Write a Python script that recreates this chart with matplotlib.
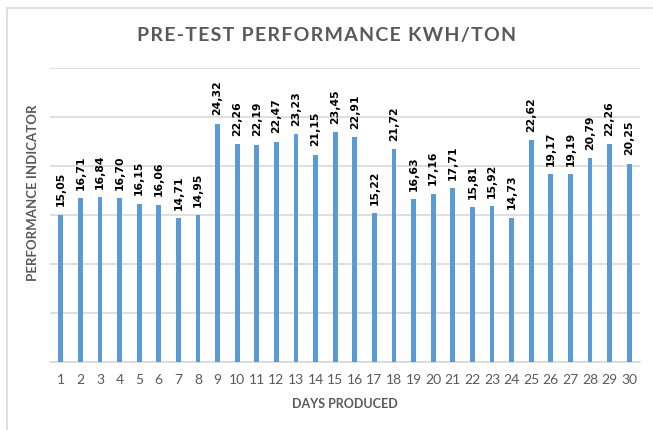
import matplotlib
matplotlib.use('Agg')
import matplotlib.pyplot as plt
from matplotlib.lines import Line2D
from matplotlib.transforms import offset_copy

days = list(range(1, 31))
values = [15.05, 16.71, 16.84, 16.70, 16.15, 16.06, 14.71, 14.95, 24.32, 22.26,
          22.19, 22.47, 23.23, 21.15, 23.45, 22.91, 15.22, 21.72, 16.63, 17.16,
          17.71, 15.81, 15.92, 14.73, 22.62, 19.17, 19.19, 20.79, 22.26, 20.25]
labels = [('%.2f' % v).replace('.', ',') for v in values]
title = 'PRE-TEST PERFORMANCE KWH/TON'

plt.rcParams['font.family'] = ['Lato', 'DejaVu Sans']
grey = '#595959'

fig = plt.figure(figsize=(6.53, 4.30), dpi=100)
ax = fig.add_axes([50 / 653, (430 - 362) / 430, 590 / 653, (362 - 68) / 430])

ax.bar(days, values, width=0.25, color='#5b9bd5', zorder=3)
lab_tr = offset_copy(ax.transData, fig=fig, x=0, y=6, units='points')
for d, v, lab in zip(days, values, labels):
    ax.text(d, v, lab, transform=lab_tr, ha='left', va='center',
            rotation=90, rotation_mode='anchor', fontsize=7.8,
            fontweight='bold', color='black', family='DejaVu Sans')

ax.set_xlim(0.45, 30.55)
ax.set_ylim(0, 30)
ax.set_yticks(range(0, 31, 5))
ax.set_yticklabels([])
ax.tick_params(axis='y', length=0)
ax.grid(axis='y', color='#d9d9d9', linewidth=1.2, zorder=0)
ax.set_xticks(days)
ax.set_xticklabels([str(d) for d in days], fontsize=10, color=grey)
ax.tick_params(axis='x', length=0, pad=9)
for s in ['top', 'right', 'left']:
    ax.spines[s].set_visible(False)
ax.spines['bottom'].set_color('#d9d9d9')
ax.spines['bottom'].set_linewidth(1.2)

ax.set_xlabel('DAYS PRODUCED', fontsize=9, fontweight='bold', color=grey, labelpad=8)
ax.set_ylabel('PERFORMANCE INDICATOR', fontsize=9.5, fontweight='bold', color=grey)
ax.yaxis.set_label_coords(-0.018, 0.575)

fig.text(0.5, 1 - 36 / 430, '\u200a'.join(title), ha='center', va='center',
         fontsize=14, fontweight='bold', color=grey)

fig.add_artist(Line2D([7 / 653, 1], [1 - 8 / 430, 1 - 8 / 430], color='#d9d9d9', lw=1.2, transform=fig.transFigure))
fig.add_artist(Line2D([7 / 653, 7 / 653], [0, 1 - 8 / 430], color='#d9d9d9', lw=1.2, transform=fig.transFigure))

fig.savefig('out.png', dpi=100)
